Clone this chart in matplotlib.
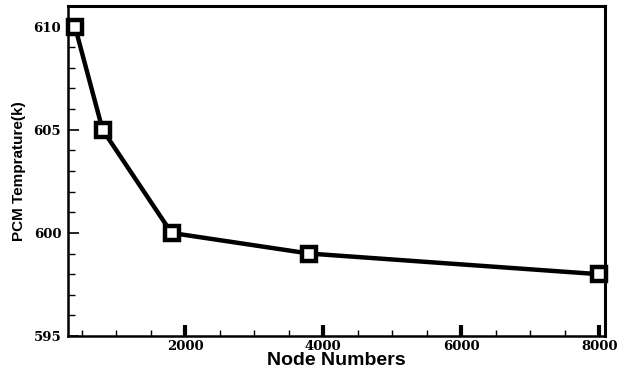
import matplotlib
matplotlib.use('Agg')
import matplotlib.pyplot as plt
from matplotlib.ticker import MultipleLocator

# grid independence study
nodes = [400, 800, 1800, 3800, 8000]
temp = [610, 605, 600, 599, 598]

fig = plt.figure(figsize=(6.19, 3.71), dpi=100)
ax = fig.add_axes([0.110, 0.094, 0.868, 0.890])

ax.plot(nodes, temp, color='black', linewidth=3.2, marker='s', markersize=10.5,
        markerfacecolor='white', markeredgecolor='black', markeredgewidth=3.2,
        clip_on=False, zorder=3)

ax.set_xlim(300, 8090)
ax.set_ylim(595, 611)
ax.xaxis.set_minor_locator(MultipleLocator(500))
ax.yaxis.set_minor_locator(MultipleLocator(1))

ax.tick_params(which='both', direction='in', top=False, right=False)
ax.tick_params(axis='x', which='major', length=8, width=3, pad=3)
ax.tick_params(axis='x', which='minor', length=4, width=1)
ax.tick_params(axis='y', which='major', length=8, width=1.2, pad=5)
ax.tick_params(axis='y', which='minor', length=5, width=1)

ax.set_xticks([2000, 4000, 6000, 8000])
ax.set_xticklabels(['2000', '4000', '6000', '8000'], family='DejaVu Serif',
                   fontweight='bold', fontsize=9.5)
ax.set_yticks([595, 600, 605, 610])
ax.set_yticklabels(['595', '600', '605', '610'], family='DejaVu Serif',
                   fontweight='bold', fontsize=9.5)

for s in ['left', 'bottom']:
    ax.spines[s].set_linewidth(1.8)
for s in ['top', 'right']:
    ax.spines[s].set_linewidth(2.2)

ax.set_xlabel('Node Numbers', family='Liberation Sans', fontweight='bold',
              fontsize=14, labelpad=-1)
ax.set_ylabel('PCM Temprature(k)', family='Liberation Sans', fontweight='bold',
              fontsize=11, labelpad=5)

fig.savefig('out.png', dpi=100)
